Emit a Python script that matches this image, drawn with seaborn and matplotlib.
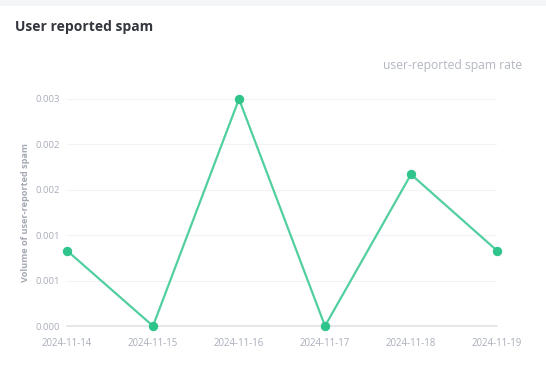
import matplotlib.pyplot as plt
from matplotlib.patches import Rectangle
import seaborn as sns
import pandas as pd

# Data
dates = ["2024-11-14", "2024-11-15", "2024-11-16", "2024-11-17", "2024-11-18", "2024-11-19"]
spam_rate = [0.00083, 0.0, 0.0025, 0.0, 0.00167, 0.00083]
y_ticks = [0.0, 0.0005, 0.001, 0.0015, 0.002, 0.0025]
y_tick_labels = ["0.000", "0.001", "0.001", "0.002", "0.002", "0.003"]

df = pd.DataFrame({"date": dates, "rate": spam_rate})

sns.set_style("white")
plt.rcParams["font.family"] = ["Open Sans", "DejaVu Sans"]

fig = plt.figure(figsize=(5.46, 3.71), dpi=100)
fig.patch.set_facecolor("white")
# light page strip above the card
fig.patches.append(Rectangle((0, 1 - 6 / 371), 1, 6 / 371, transform=fig.transFigure,
                             facecolor="#f4f5f7", edgecolor="none", zorder=0))

ax = fig.add_axes([67 / 546, 1 - 326 / 371, 430 / 546, 227 / 371])

sns.lineplot(data=df, x="date", y="rate", ax=ax, color="#52cf9f", linewidth=1.6,
             marker="o", markersize=6, markerfacecolor="#2fc48a",
             markeredgecolor="#2fc48a", clip_on=False, zorder=3)

ax.set_xlim(0, len(dates) - 1)
ax.set_ylim(0, 0.0025)
ax.set_yticks(y_ticks)
ax.set_yticklabels(y_tick_labels)
ax.set_xticks(range(len(dates)))
ax.set_xticklabels(dates)
ax.set_xticks([0, 2, 4, 5], minor=True)

ax.tick_params(axis="y", length=0, pad=5, labelsize=6.8, labelcolor="#a9aebb")
ax.tick_params(axis="x", which="major", length=0, pad=9, labelsize=6.9, labelcolor="#a9aebb")
ax.tick_params(axis="x", which="minor", length=4, width=0.8, color="#e3e3e6")

ax.yaxis.grid(True, color="#f3f3f4", linewidth=0.8)
ax.set_axisbelow(True)
for side in ["top", "right", "left"]:
    ax.spines[side].set_visible(False)
ax.spines["bottom"].set_color("#e3e3e6")
ax.spines["bottom"].set_linewidth(1.2)

ax.set_xlabel("")
ax.set_ylabel("Volume of user-reported spam", fontsize=6.6, fontweight="bold",
              color="#a4a8b3")
ax.yaxis.set_label_coords(-37 / 430, 0.5)

fig.text(15 / 546, 1 - 27 / 371, "User reported spam", fontsize=10, fontweight="bold",
         color="#33363d", va="center", ha="left")
fig.text(522 / 546, 1 - 66 / 371, "user-reported spam rate", fontsize=8.7,
         color="#b3b7c1", va="center", ha="right")

fig.savefig("out.png", dpi=100)
